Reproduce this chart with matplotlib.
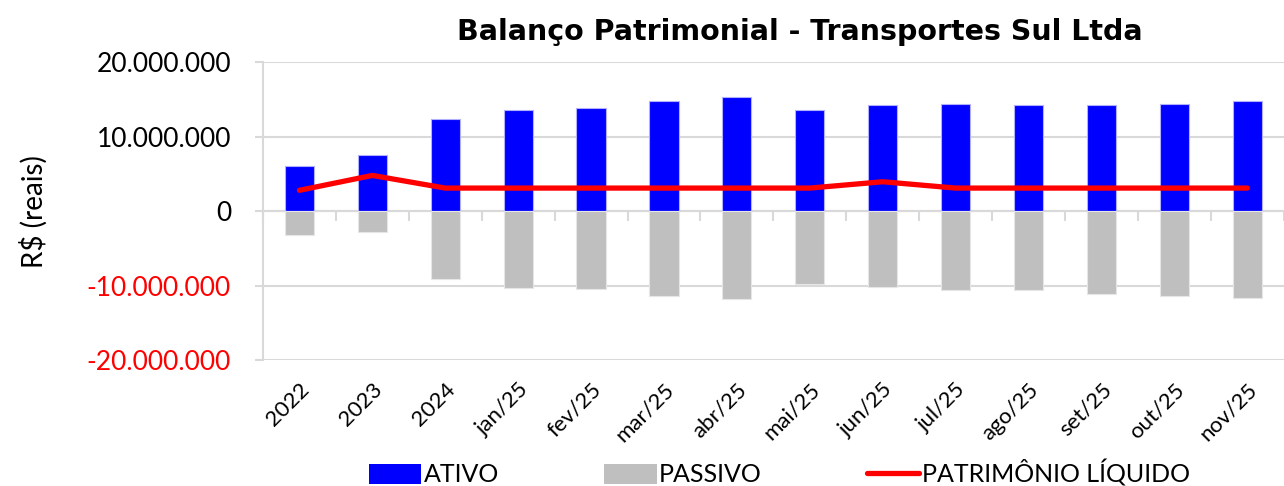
import matplotlib
matplotlib.use("Agg")
import matplotlib.pyplot as plt
import matplotlib.ticker as mticker
from matplotlib.patches import Patch
from matplotlib.lines import Line2D
import numpy as np

categories = ["2022", "2023", "2024", "jan/25", "fev/25", "mar/25", "abr/25",
              "mai/25", "jun/25", "jul/25", "ago/25", "set/25", "out/25", "nov/25"]
ativo = [6.13e6, 7.56e6, 12.32e6, 13.6e6, 13.83e6, 14.85e6, 15.39e6,
         13.56e6, 14.23e6, 14.4e6, 14.31e6, 14.19e6, 14.45e6, 14.85e6]
passivo = [-3.2e6, -2.8e6, -9.1e6, -10.3e6, -10.44e6, -11.41e6, -11.81e6,
           -9.73e6, -10.13e6, -10.57e6, -10.57e6, -11.07e6, -11.33e6, -11.6e6]
patrimonio = [2.8e6, 4.8e6, 3.1e6, 3.1e6, 3.1e6, 3.1e6, 3.1e6,
              3.1e6, 3.95e6, 3.1e6, 3.1e6, 3.1e6, 3.1e6, 3.1e6]

plt.rcParams['font.family'] = ['Lato', 'DejaVu Sans']

fig = plt.figure(figsize=(12.84, 4.86), dpi=100)
ax = fig.add_axes([0.2048, 0.259, 0.795, 0.613])

x = np.arange(len(categories))
grid_c = '#d9d9d9'
ax.bar(x, ativo, width=0.4, color='#0000ff', edgecolor='#b0b0ff', linewidth=0.8, zorder=2)
ax.bar(x, passivo, width=0.4, color='#bfbfbf', edgecolor='#e6e6e6', linewidth=0.8, zorder=2)
ax.plot(x, patrimonio, color='#ff0000', linewidth=3.8, solid_capstyle='round',
        solid_joinstyle='round', zorder=3)

ax.set_xlim(-0.5, len(categories) - 0.5)
ax.set_ylim(-20e6, 20e6)
ax.yaxis.set_major_locator(mticker.MultipleLocator(10e6))
ax.yaxis.set_major_formatter(mticker.FuncFormatter(lambda v, p: f"{int(round(v)):,}".replace(",", ".")))
ax.grid(axis='y', color=grid_c, linewidth=1.5, zorder=0)
ax.set_axisbelow(True)
for s in ['top', 'right', 'bottom']:
    ax.spines[s].set_visible(False)
ax.spines['left'].set_color(grid_c)
ax.spines['left'].set_linewidth(1.5)
ax.tick_params(axis='y', colors=grid_c, length=6, width=1.5, labelsize=19, labelcolor='black', pad=17)
for lab, v in zip(ax.get_yticklabels(), ax.get_yticks()):
    lab.set_color('red' if v < 0 else 'black')

ax.set_xticks(x)
ax.set_xticklabels(categories, rotation=45, ha='right', rotation_mode='anchor', fontsize=16)
ax.tick_params(axis='x', length=0, pad=14)

# axis line at zero with tick marks between categories
sec = ax.secondary_xaxis(0.5)
for s in ['top', 'bottom']:
    sec.spines[s].set_color(grid_c)
    sec.spines[s].set_linewidth(1.5)
sec.set_xticks(np.arange(len(categories) + 1) - 0.5)
sec.xaxis.set_ticks_position('bottom')
sec.tick_params(axis='x', length=7, width=1.5, color=grid_c, direction='out',
                labelbottom=False, labeltop=False)

ax.set_ylabel("R$ (reais)", fontsize=20, labelpad=28)

fig.text(0.623, 0.935, "Balanço Patrimonial - Transportes Sul Ltda", ha='center', va='center',
         fontsize=20.5, fontweight='bold', family='DejaVu Sans')

handles = [Patch(facecolor='#0000ff', edgecolor='none'),
           Patch(facecolor='#bfbfbf', edgecolor='none'),
           Line2D([0], [0], color='#ff0000', linewidth=3.8, solid_capstyle='round')]
fig.legend(handles, ["ATIVO", "PASSIVO", "PATRIMÔNIO LÍQUIDO"], loc='center',
           bbox_to_anchor=(0.607, 0.027), ncol=3, frameon=False, fontsize=18,
           handlelength=2.1, handletextpad=0.1, columnspacing=4.2, handleheight=0.85)

fig.savefig("out.png", dpi=100)
